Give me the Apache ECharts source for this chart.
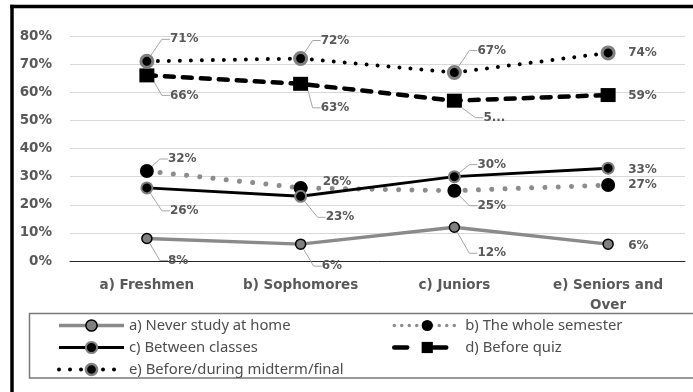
<!DOCTYPE html>
<html>
<head>
<meta charset="utf-8">
<script src="https://cdn.jsdelivr.net/npm/echarts@6/dist/echarts.min.js"></script>
<style>
  html, body { margin: 0; padding: 0; background: #fff; overflow: hidden; }
  #chart { width: 693px; height: 392px; }
</style>
</head>
<body>
<div id="chart"></div>
<script>
// Student groups on the category axis
const categories = ['a) Freshmen', 'b) Sophomores', 'c) Juniors', 'e) Seniors and\nOver'];

// Share of students (%) per study habit
const neverAtHome    = [8, 6, 12, 6];
const wholeSemester  = [32, 26, 25, 27];
const betweenClasses = [26, 23, 30, 33];
const beforeQuiz     = [66, 63, 57, 59];
const midtermFinal   = [71, 72, 67, 74];

const seriesNames = [
  'a) Never study at home',
  'b) The whole semester',
  'c) Between classes',
  'd) Before quiz',
  'e) Before/during midterm/final'
];

// Value axis range (percent)
const yMin = 0, yMax = 80, yStep = 10;

// Labels that were cut short in the data-label box
const clippedLabels = { '3-2': '5...' };

// Data-label placement: [dx, dy] from the marker centre to the text's left/middle
const labelPlacement = [
  [[21, 22], [21, 22], [23, 26], [20, 2]],
  [[21, -12], [22, -6], [23, 15], [20, 0]],
  [[23, 23], [25, 21], [23, -12], [20, 2]],
  [[23, 20], [20, 24], [29, 17], [20, 1]],
  [[23, -22], [20, -18], [23, -22], [20, 0]]
];
const LABEL_PAD = 8;

const labelFont = { fontFamily: 'DejaVu Sans', fontWeight: 'bold', fontSize: 12, color: '#595959' };

function makeSeries(idx, values, style) {
  return Object.assign({
    name: seriesNames[idx],
    type: 'line',
    showSymbol: true,
    animation: false,
    data: values.map((v, i) => ({
      value: v,
      labelLine: { show: Math.abs(labelPlacement[idx][i][1]) > 10 }
    })),
    label: Object.assign({
      show: true,
      padding: [0, 0, 0, LABEL_PAD],
      formatter: p => clippedLabels[idx + '-' + p.dataIndex] || (p.value + '%')
    }, labelFont),
    labelLine: {
      show: true,
      length2: 8,
      minTurnAngle: 0,
      lineStyle: { color: '#a6a6a6', width: 1 }
    },
    labelLayout: p => {
      const off = labelPlacement[idx][p.dataIndex];
      const cx = p.rect.x + p.rect.width / 2;
      const cy = p.rect.y + p.rect.height / 2;
      return { x: cx + off[0] - LABEL_PAD, y: cy + off[1], align: 'left', verticalAlign: 'middle' };
    }
  }, style);
}

const series = [
  makeSeries(0, neverAtHome, {
    lineStyle: { color: '#8a8a8a', width: 3.5 },
    symbol: 'circle', symbolSize: 10,
    itemStyle: { color: '#808080', borderColor: '#000', borderWidth: 1.5 }
  }),
  makeSeries(1, wholeSemester, {
    lineStyle: { color: '#8c8c8c', width: 5, type: [0.001, 13.3], cap: 'round' },
    symbol: 'circle', symbolSize: 14,
    itemStyle: { color: '#000', borderColor: '#000', borderWidth: 0 }
  }),
  makeSeries(2, betweenClasses, {
    lineStyle: { color: '#000', width: 3 },
    symbol: 'circle', symbolSize: 11,
    itemStyle: { color: '#000', borderColor: '#7f7f7f', borderWidth: 2 }
  }),
  makeSeries(3, beforeQuiz, {
    lineStyle: { color: '#000', width: 4.5, type: [9, 9], cap: 'round' },
    symbol: 'rect', symbolSize: [15, 14],
    itemStyle: { color: '#000', borderWidth: 0 }
  }),
  makeSeries(4, midtermFinal, {
    lineStyle: { color: '#000', width: 4, type: [0.001, 11], cap: 'round' },
    symbol: 'circle', symbolSize: 12,
    itemStyle: { color: '#000', borderColor: '#808080', borderWidth: 3 }
  })
];

const legendText = { fontFamily: 'Noto Sans', fontSize: 14.8, color: '#4d4d4d' };
const legendBase = {
  orient: 'vertical', top: 318, padding: 0,
  itemWidth: 65, itemHeight: 14, itemGap: 7,
  textStyle: legendText
};

const chart = echarts.init(document.getElementById('chart'), null, { renderer: 'canvas' });
chart.setOption({
  backgroundColor: '#fff',
  animation: false,
  grid: { left: 70, right: 8, top: 36, bottom: 131 },
  xAxis: {
    type: 'category',
    data: categories,
    boundaryGap: true,
    axisLine: { lineStyle: { color: '#262626', width: 1 } },
    axisTick: { show: false },
    axisLabel: {
      margin: 14, lineHeight: 20, interval: 0,
      fontFamily: 'DejaVu Sans', fontWeight: 'bold', fontSize: 13.5, color: '#595959'
    }
  },
  yAxis: {
    type: 'value',
    min: yMin, max: yMax, interval: yStep,
    axisLine: { show: false },
    axisTick: { show: false },
    splitLine: { lineStyle: { color: '#d9d9d9', width: 1 } },
    axisLabel: {
      formatter: '{value}%', margin: 18,
      fontFamily: 'DejaVu Sans', fontWeight: 'bold', fontSize: 13.5, color: '#595959'
    }
  },
  legend: [
    Object.assign({}, legendBase, {
      left: 57,
      data: [
        { name: seriesNames[0], lineStyle: { width: 3.5, color: '#8a8a8a' }, itemStyle: { borderWidth: 1.5, borderColor: '#000' } },
        { name: seriesNames[2], lineStyle: { width: 3 }, itemStyle: { borderWidth: 2, borderColor: '#7f7f7f' } },
        { name: seriesNames[4], lineStyle: { width: 4, type: [0.001, 11], cap: 'round' }, itemStyle: { borderWidth: 2.5, borderColor: '#808080' } }
      ]
    }),
    Object.assign({}, legendBase, {
      left: 392, itemWidth: 66,
      data: [
        { name: seriesNames[1], lineStyle: { width: 3.5, type: [0.001, 7.5], cap: 'round' }, itemStyle: { borderWidth: 0 } },
        { name: seriesNames[3], lineStyle: { width: 4.5, type: [13, 26], cap: 'round' }, itemStyle: { borderWidth: 0 } }
      ]
    })
  ],
  graphic: [
    {
      // chart frame: top and left edges
      type: 'line', silent: true,
      shape: { x1: 10.25, y1: 6.5, x2: 693, y2: 6.5 },
      style: { stroke: '#000', lineWidth: 3.5 }
    },
    {
      type: 'line', silent: true,
      shape: { x1: 12, y1: 4.75, x2: 12, y2: 392 },
      style: { stroke: '#000', lineWidth: 3.5 }
    },
    {
      // legend box, open on the right
      type: 'polyline', silent: true,
      shape: { points: [[693, 313.5], [29.5, 313.5], [29.5, 378], [693, 378]] },
      style: { fill: null, stroke: '#7a7a7a', lineWidth: 1.5 }
    }
  ],
  series: series
});
</script>
</body>
</html>
